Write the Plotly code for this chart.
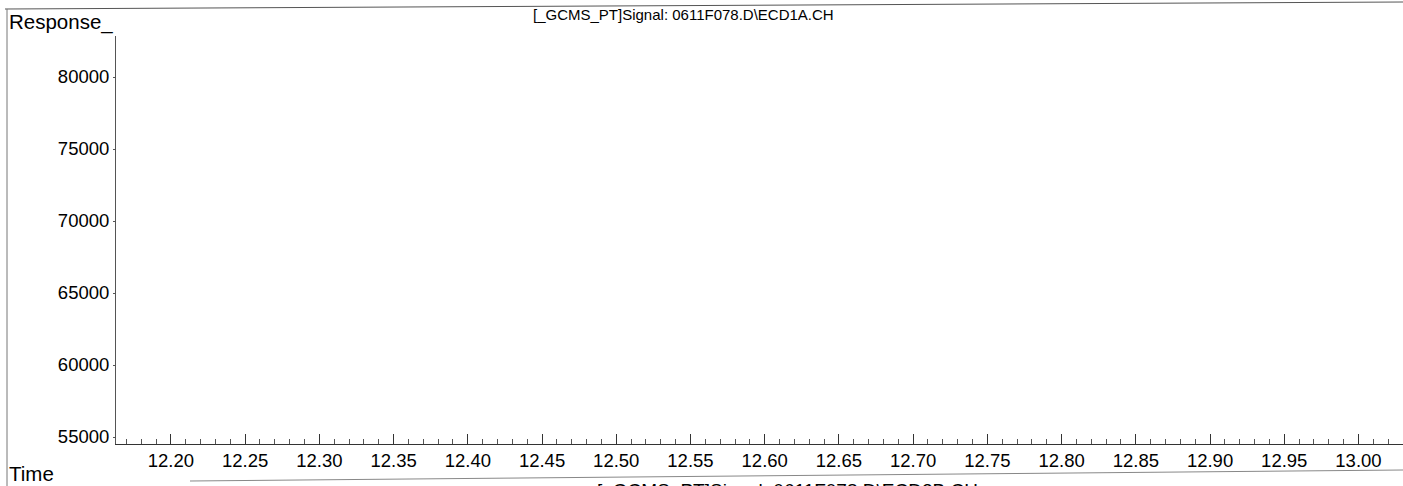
import plotly.graph_objects as go

# Data (the signal trace is not visible in this window)
signal_time = []
signal_response = []
x_tick_vals = [12.20, 12.25, 12.30, 12.35, 12.40, 12.45, 12.50, 12.55, 12.60,
               12.65, 12.70, 12.75, 12.80, 12.85, 12.90, 12.95, 13.00]
x_tick_text = ["%.2f" % v for v in x_tick_vals]
y_tick_vals = [55000, 60000, 65000, 70000, 75000, 80000]
y_tick_text = [str(v) for v in y_tick_vals]
title_text = "[_GCMS_PT]Signal: 0611F078.D\\ECD1A.CH"
next_title_text = "[_GCMS_PT]Signal: 0611F078.D\\ECD2B.CH"

W, H = 1403, 486
L, R, T, B = 116, 0, 36, 42
PW, PH = W - L - R, H - T - B
FONT = "Liberation Sans, Arial, sans-serif"


def px(x):
    return (x - L) / PW


def py(y):
    return 1 - (y - T) / PH


fig = go.Figure()
fig.add_trace(go.Scatter(x=signal_time, y=signal_response, mode="lines",
                         line=dict(color="black", width=1), showlegend=False))

fig.update_layout(
    width=W, height=H,
    margin=dict(l=L, r=R, t=T, b=B),
    paper_bgcolor="white", plot_bgcolor="white",
    font=dict(family=FONT, color="black"),
    showlegend=False,
)
fig.update_xaxes(
    range=[12.163, 13.030],
    tickmode="array", tickvals=x_tick_vals, ticktext=x_tick_text,
    ticks="inside", ticklen=10, tickwidth=1, tickcolor="#333",
    minor=dict(dtick=0.01, ticks="inside", ticklen=5, tickwidth=1, tickcolor="#555", showgrid=False),
    showline=True, linecolor="#333", linewidth=1,
    showgrid=False, zeroline=False,
    tickfont=dict(size=18.5, family=FONT, color="black"),
)
# y range chosen so 80000 sits at ~77px and 55000 at ~437px
y_per_px = 5000 / 72.0
fig.update_yaxes(
    range=[55000 - (H - B - 437) * y_per_px, 80000 + (77 - T) * y_per_px],
    tickmode="array", tickvals=y_tick_vals, ticktext=y_tick_text,
    ticks="outside", ticklen=2, tickwidth=1, tickcolor="#555",
    showline=True, linecolor="#555", linewidth=1,
    showgrid=False, zeroline=False,
    tickfont=dict(size=18.5, family=FONT, color="black"),
)

fig.add_annotation(text=title_text, xref="paper", yref="paper",
                   x=px(683), y=py(15),
                   xanchor="center", yanchor="middle", showarrow=False,
                   font=dict(size=15, family=FONT, color="black"))
fig.add_annotation(text="Response_", xref="paper", yref="paper",
                   x=px(7), y=py(22),
                   xanchor="left", yanchor="middle", showarrow=False,
                   font=dict(size=20.5, family=FONT, color="black"))
fig.add_annotation(text="Time", xref="paper", yref="paper",
                   x=px(7), y=py(473),
                   xanchor="left", yanchor="middle", showarrow=False,
                   font=dict(size=20.5, family=FONT, color="black"))
fig.add_annotation(text=next_title_text, xref="paper", yref="paper",
                   x=px(787), y=py(478),
                   xanchor="center", yanchor="top", showarrow=False,
                   font=dict(size=19, family=FONT, color="black"))

# scanned page border lines
fig.add_shape(type="line", xref="paper", yref="paper",
              x0=px(5), y0=py(9), x1=1.0, y1=py(2),
              line=dict(color="#555", width=1))
fig.add_shape(type="line", xref="paper", yref="paper",
              x0=px(7), y0=py(9), x1=px(7), y1=py(486),
              line=dict(color="#777", width=1))
fig.add_shape(type="line", xref="paper", yref="paper",
              x0=px(190), y0=py(481), x1=1.0, y1=py(470),
              line=dict(color="#888", width=1))

fig.write_html("out.html")
